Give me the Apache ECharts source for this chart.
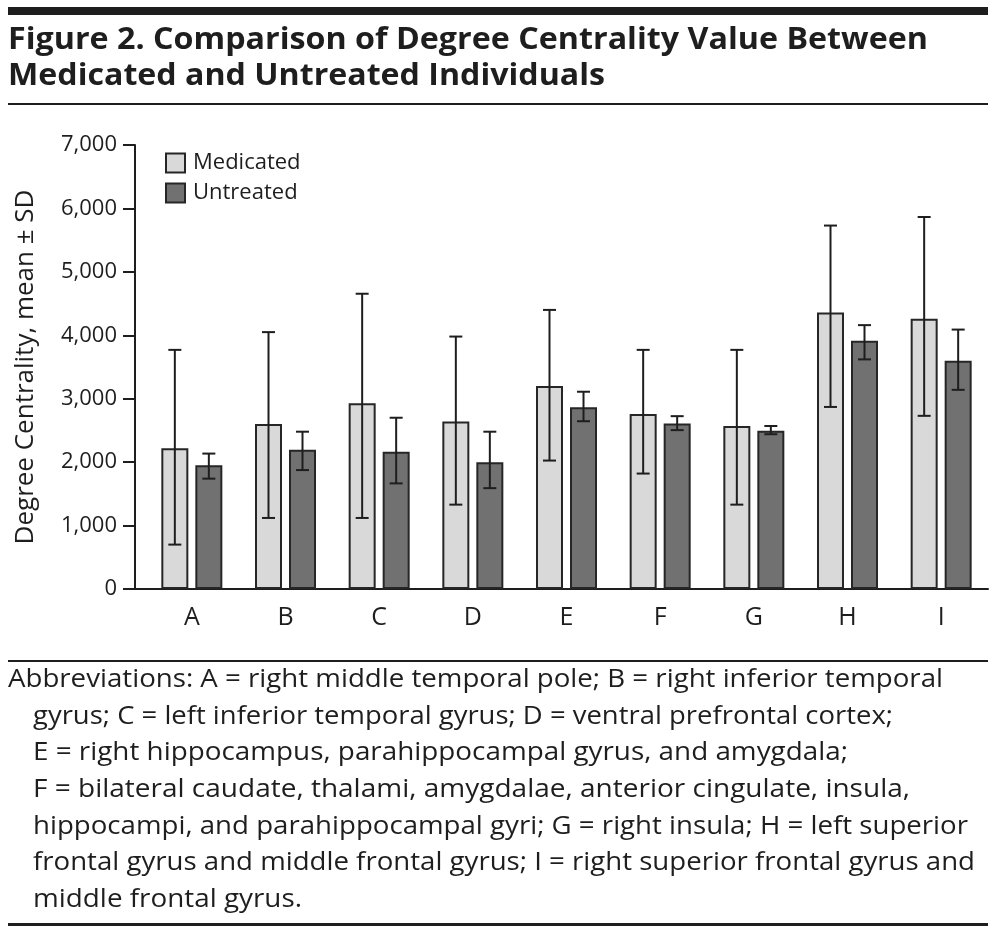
<!DOCTYPE html>
<html>
<head>
<meta charset="utf-8">
<script src="https://cdn.jsdelivr.net/npm/echarts@6/dist/echarts.min.js"></script>
<style>
  html, body { margin: 0; padding: 0; background: #fff; }
  #chart { width: 995px; height: 933px; }
</style>
</head>
<body>
<div id="chart"></div>
<script>
// ---- Data ----
const categories = ['A', 'B', 'C', 'D', 'E', 'F', 'G', 'H', 'I'];
const medicatedMean = [2220, 2600, 2930, 2640, 3200, 2760, 2570, 4360, 4260];
const medicatedLow  = [700, 1120, 1120, 1330, 2025, 1820, 1330, 2870, 2730];
const medicatedHigh = [3770, 4050, 4655, 3980, 4400, 3770, 3770, 5730, 5865];
const untreatedMean = [1950, 2195, 2165, 2000, 2865, 2610, 2495, 3915, 3600];
const untreatedLow  = [1740, 1875, 1665, 1590, 2645, 2505, 2440, 3620, 3140];
const untreatedHigh = [2135, 2480, 2700, 2480, 3110, 2725, 2570, 4160, 4090];
const yTicks = [0, 1000, 2000, 3000, 4000, 5000, 6000, 7000];

const titleLines = [
  'Figure 2. Comparison of Degree Centrality Value Between',
  'Medicated and Untreated Individuals'
];
const footLines = [
  'Abbreviations: A = right middle temporal pole; B = right inferior temporal',
  'gyrus; C = left inferior temporal gyrus; D = ventral prefrontal cortex;',
  'E = right hippocampus, parahippocampal gyrus, and amygdala;',
  'F = bilateral caudate, thalami, amygdalae, anterior cingulate, insula,',
  'hippocampi, and parahippocampal gyri; G = right insula; H = left superior',
  'frontal gyrus and middle frontal gyrus; I = right superior frontal gyrus and',
  'middle frontal gyrus.'
];

// ---- Style ----
const FONT = '"Open Sans", "Noto Sans", sans-serif';
const INK = '#1e1e1e';
const BAR_W = 27;
const GAP = 7;
const OFFSET = (BAR_W + GAP) / 2;

const chart = echarts.init(document.getElementById('chart'), null, { renderer: 'canvas' });

const measureCtx = document.createElement('canvas').getContext('2d');
function fitText(text, font, x, y, targetWidth) {
  measureCtx.font = font;
  const w = measureCtx.measureText(text).width;
  return {
    type: 'text', x: x, y: y, scaleX: targetWidth ? targetWidth / w : 1, originX: 0,
    style: { text: text, font: font, fill: INK, align: 'left', verticalAlign: 'middle' }
  };
}

function errorSeries(name, low, high, dir) {
  return {
    type: 'custom',
    name: name + ' SD',
    z: 5,
    silent: true,
    encode: { x: 0, y: [1, 2] },
    data: categories.map((c, i) => [i, low[i], high[i]]),
    renderItem: function (params, api) {
      const i = api.value(0);
      const top = api.coord([i, api.value(2)]);
      const bot = api.coord([i, api.value(1)]);
      const x = top[0] + dir * OFFSET;
      const cap = 6.5;
      const st = { stroke: INK, lineWidth: 2 };
      return {
        type: 'group',
        children: [
          { type: 'line', shape: { x1: x, y1: top[1], x2: x, y2: bot[1] }, style: st },
          { type: 'line', shape: { x1: x - cap, y1: top[1], x2: x + cap, y2: top[1] }, style: st },
          { type: 'line', shape: { x1: x - cap, y1: bot[1], x2: x + cap, y2: bot[1] }, style: st }
        ]
      };
    }
  };
}

const titleFont = 'bold 31px ' + FONT;
const footFont = '25px ' + FONT;
const footX = [8, 33, 33, 33, 33, 33, 33];
const footW = [935, 860, 815, 877, 935, 942, 269];
const footY = [680, 717, 753, 790, 827, 863, 900];

const graphics = [
  { type: 'rect', shape: { x: 8, y: 7, width: 980, height: 8 }, style: { fill: INK } },
  fitText(titleLines[0], titleFont, 8, 40, 920),
  fitText(titleLines[1], titleFont, 8, 76, 597),
  { type: 'rect', shape: { x: 8, y: 103, width: 980, height: 2 }, style: { fill: INK } },
  { type: 'rect', shape: { x: 8, y: 660, width: 980, height: 2 }, style: { fill: INK } },
  { type: 'rect', shape: { x: 8, y: 923, width: 980, height: 3 }, style: { fill: INK } }
];
footLines.forEach((t, i) => graphics.push(fitText(t, footFont, footX[i], footY[i], footW[i])));

const option = {
  animation: false,
  backgroundColor: '#fff',
  textStyle: { fontFamily: FONT, color: INK },
  grid: { left: 145, right: 7, top: 145, bottom: 344, containLabel: false },
  legend: {
    orient: 'vertical', left: 160, top: 147,
    icon: 'rect',
    itemWidth: 19, itemHeight: 19, itemGap: 8,
    data: ['Medicated', 'Untreated'],
    textStyle: { fontSize: 22, color: INK, fontFamily: FONT, padding: [0, 0, 0, 3] }
  },
  xAxis: {
    type: 'category',
    data: categories,
    axisLine: { lineStyle: { color: INK, width: 2 } },
    axisTick: { show: false },
    axisLabel: { fontSize: 25, color: INK, margin: 16, fontFamily: FONT }
  },
  yAxis: {
    type: 'value', min: 0, max: 7000, interval: 1000, offset: 10,
    name: 'Degree Centrality, mean ± SD',
    nameLocation: 'middle', nameRotate: 90, nameGap: 96,
    nameTextStyle: { fontSize: 26, color: INK, fontFamily: FONT },
    axisLine: { show: true, lineStyle: { color: INK, width: 2 } },
    axisTick: { show: true, length: 12, lineStyle: { color: INK, width: 2 } },
    splitLine: { show: false },
    axisLabel: {
      fontSize: 22, color: INK, margin: 18, fontFamily: FONT,
      formatter: v => yTicks.includes(v) ? v.toLocaleString('en-US') : ''
    }
  },
  series: [
    {
      name: 'Medicated', type: 'bar', data: medicatedMean,
      barWidth: BAR_W, barGap: (GAP / BAR_W * 100) + '%',
      itemStyle: { color: '#d9d9d9', borderColor: '#262626', borderWidth: 2 }
    },
    {
      name: 'Untreated', type: 'bar', data: untreatedMean,
      barWidth: BAR_W,
      itemStyle: { color: '#717171', borderColor: '#262626', borderWidth: 2 }
    },
    errorSeries('Medicated', medicatedLow, medicatedHigh, -1),
    errorSeries('Untreated', untreatedLow, untreatedHigh, 1)
  ],
  graphic: graphics
};
chart.setOption(option);

// extend the baseline leftwards to meet the y-axis, as in the reference
const p0 = chart.convertToPixel({ gridIndex: 0 }, [0, 0]);
const gridLeft = option.grid.left;
graphics.push({
  type: 'line', z: 10,
  shape: { x1: gridLeft - option.yAxis.offset - 12, y1: p0[1], x2: gridLeft + 1, y2: p0[1] },
  style: { stroke: INK, lineWidth: 2 }
});
chart.setOption({ graphic: graphics });
</script>
</body>
</html>
